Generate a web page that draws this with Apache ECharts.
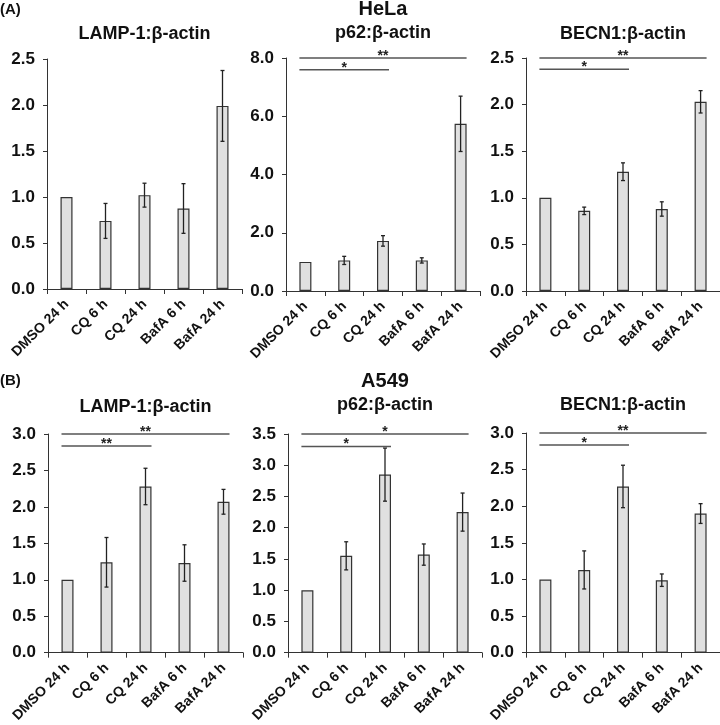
<!DOCTYPE html>
<html>
<head>
<meta charset="utf-8">
<script src="https://cdn.jsdelivr.net/npm/echarts@6/dist/echarts.min.js"></script>
<style>html,body{margin:0;padding:0;background:#fff;}#c{width:720px;height:725px;}</style>
</head>
<body>
<div id="c"></div>
<script>
// ---- data ----
const categories = ['DMSO 24 h', 'CQ 6 h', 'CQ 24 h', 'BafA 6 h', 'BafA 24 h'];

const helaLamp = [1.0, 0.74, 1.02, 0.875, 1.99];
const helaLampErr = [0, 0.19, 0.13, 0.27, 0.385];
const helaP62 = [1.0, 1.05, 1.72, 1.05, 5.74];
const helaP62Err = [0, 0.14, 0.18, 0.09, 0.95];
const helaBecn = [1.0, 0.86, 1.28, 0.88, 2.03];
const helaBecnErr = [0, 0.04, 0.095, 0.077, 0.12];

const a549Lamp = [1.0, 1.24, 2.28, 1.23, 2.07];
const a549LampErr = [0, 0.34, 0.25, 0.25, 0.17];
const a549P62 = [1.0, 1.55, 2.85, 1.57, 2.25];
const a549P62Err = [0, 0.225, 0.425, 0.17, 0.305];
const a549Becn = [1.0, 1.13, 2.27, 0.99, 1.90];
const a549BecnErr = [0, 0.26, 0.29, 0.085, 0.135];

// y axis ranges (tick labels follow from max / interval)
const helaLampAxis = {max: 2.5, interval: 0.5};
const helaP62Axis = {max: 8, interval: 2};
const helaBecnAxis = {max: 2.5, interval: 0.5};
const a549LampAxis = {max: 3.0, interval: 0.5};
const a549P62Axis = {max: 3.5, interval: 0.5};
const a549BecnAxis = {max: 3.0, interval: 0.5};

// significance brackets: [from index, to index, y level, mark]
const helaLampSig = [];
const helaP62Sig = [[0, 4, 8.0, '**'], [0, 2, 7.6, '*']];
const helaBecnSig = [[0, 4, 2.5, '**'], [0, 2, 2.378, '*']];
const a549LampSig = [[0, 4, 3.0, '**'], [0, 2, 2.834, '**']];
const a549P62Sig = [[0, 4, 3.5, '*'], [0, 2, 3.30, '*']];
const a549BecnSig = [[0, 4, 3.0, '**'], [0, 2, 2.835, '*']];

// ---- layout ----
const FONT = "'Liberation Sans', Arial, sans-serif";
const panels = [
  {vals: helaLamp, err: helaLampErr, axis: helaLampAxis, sig: helaLampSig, title: 'LAMP-1:β-actin', grid: {left: 47, top: 59, width: 195, height: 230}, ty: 34},
  {vals: helaP62, err: helaP62Err, axis: helaP62Axis, sig: helaP62Sig, title: 'p62:β-actin', grid: {left: 286, top: 58, width: 194, height: 233}, ty: 33},
  {vals: helaBecn, err: helaBecnErr, axis: helaBecnAxis, sig: helaBecnSig, title: 'BECN1:β-actin', grid: {left: 526, top: 58, width: 194, height: 233}, ty: 34},
  {vals: a549Lamp, err: a549LampErr, axis: a549LampAxis, sig: a549LampSig, title: 'LAMP-1:β-actin', grid: {left: 48, top: 434, width: 195, height: 223}, ty: 407},
  {vals: a549P62, err: a549P62Err, axis: a549P62Axis, sig: a549P62Sig, title: 'p62:β-actin', grid: {left: 288, top: 434, width: 194, height: 222}, ty: 405},
  {vals: a549Becn, err: a549BecnErr, axis: a549BecnAxis, sig: a549BecnSig, title: 'BECN1:β-actin', grid: {left: 526, top: 433, width: 194, height: 225}, ty: 405}
];

const BAR_W = 12;
const grids = [], xAxes = [], yAxes = [], series = [], graphics = [];

function errRender(params, api) {
  const x = api.value(0), lo = api.value(1), hi = api.value(2);
  if (!(hi > lo)) return null;
  const a = api.coord([x, lo]), b = api.coord([x, hi]);
  const cap = 2;
  const st = {stroke: '#222', lineWidth: 1.3};
  return {type: 'group', children: [
    {type: 'line', shape: {x1: a[0], y1: a[1], x2: b[0], y2: b[1]}, style: st},
    {type: 'line', shape: {x1: a[0] - cap, y1: a[1], x2: a[0] + cap, y2: a[1]}, style: st},
    {type: 'line', shape: {x1: b[0] - cap, y1: b[1], x2: b[0] + cap, y2: b[1]}, style: st}
  ]};
}

function makeSigRender(sig) {
  return function (params, api) {
    const i0 = api.value(0), i1 = api.value(1), yv = api.value(2);
    const p0 = api.coord([i0, yv]), p1 = api.coord([i1, yv]);
    const x0 = p0[0] - BAR_W / 2, x1 = p1[0] + BAR_W / 2;
    return {type: 'group', children: [
      {type: 'line', shape: {x1: x0, y1: p0[1], x2: x1, y2: p1[1]}, style: {stroke: '#555', lineWidth: 1.5}},
      {type: 'text', x: (x0 + x1) / 2, y: p0[1] - 2, style: {text: sig[params.dataIndex][3], font: 'bold 14px ' + FONT, fill: '#222', align: 'center', verticalAlign: 'middle'}}
    ]};
  };
}

panels.forEach((p, i) => {
  grids.push(Object.assign({containLabel: false}, p.grid));
  xAxes.push({
    type: 'category', gridIndex: i, data: categories,
    axisLine: {lineStyle: {color: '#333', width: 1}},
    axisTick: {show: true, length: 5, lineStyle: {color: '#333'}},
    axisLabel: {interval: 0, rotate: 45, fontFamily: FONT, fontWeight: 'bold', fontSize: 14, color: '#111', margin: 13}
  });
  yAxes.push({
    type: 'value', gridIndex: i, min: 0, max: p.axis.max, interval: p.axis.interval,
    axisLine: {show: true, lineStyle: {color: '#333', width: 1}},
    axisTick: {show: true, length: 4, lineStyle: {color: '#333'}},
    splitLine: {show: false},
    axisLabel: {fontFamily: FONT, fontWeight: 'bold', fontSize: 17, color: '#111', margin: 12,
      formatter: v => v.toFixed(1)}
  });
  series.push({
    type: 'bar', xAxisIndex: i, yAxisIndex: i, data: p.vals, barWidth: BAR_W,
    itemStyle: {color: '#e0e0e0', borderColor: '#333', borderWidth: 1.2}, animation: false
  });
  series.push({
    type: 'custom', xAxisIndex: i, yAxisIndex: i, renderItem: errRender,
    data: p.vals.map((v, k) => [k, v - p.err[k], v + p.err[k]]),
    encode: {x: 0, y: [1, 2]}, z: 5, animation: false
  });
  if (p.sig.length) {
    series.push({
      type: 'custom', xAxisIndex: i, yAxisIndex: i, renderItem: makeSigRender(p.sig),
      data: p.sig.map(s => [s[0], s[1], s[2]]),
      encode: {x: [0, 1], y: 2}, z: 6, clip: false, animation: false
    });
  }
  graphics.push({type: 'text', x: p.grid.left + p.grid.width / 2, y: p.ty,
    style: {text: p.title, font: 'bold 18px ' + FONT, fill: '#111', align: 'center', verticalAlign: 'middle'}});
});

graphics.push({type: 'text', x: 0, y: 10, style: {text: '(A)', font: 'bold 15px ' + FONT, fill: '#111', align: 'left', verticalAlign: 'middle'}});
graphics.push({type: 'text', x: 0, y: 381, style: {text: '(B)', font: 'bold 15px ' + FONT, fill: '#111', align: 'left', verticalAlign: 'middle'}});
graphics.push({type: 'text', x: 383, y: 9, style: {text: 'HeLa', font: 'bold 20px ' + FONT, fill: '#111', align: 'center', verticalAlign: 'middle'}});
graphics.push({type: 'text', x: 385, y: 381, style: {text: 'A549', font: 'bold 20px ' + FONT, fill: '#111', align: 'center', verticalAlign: 'middle'}});

const chart = echarts.init(document.getElementById('c'), null, {renderer: 'canvas'});
chart.setOption({
  animation: false,
  backgroundColor: '#fff',
  grid: grids, xAxis: xAxes, yAxis: yAxes, series: series, graphic: graphics
});
</script>
</body>
</html>
